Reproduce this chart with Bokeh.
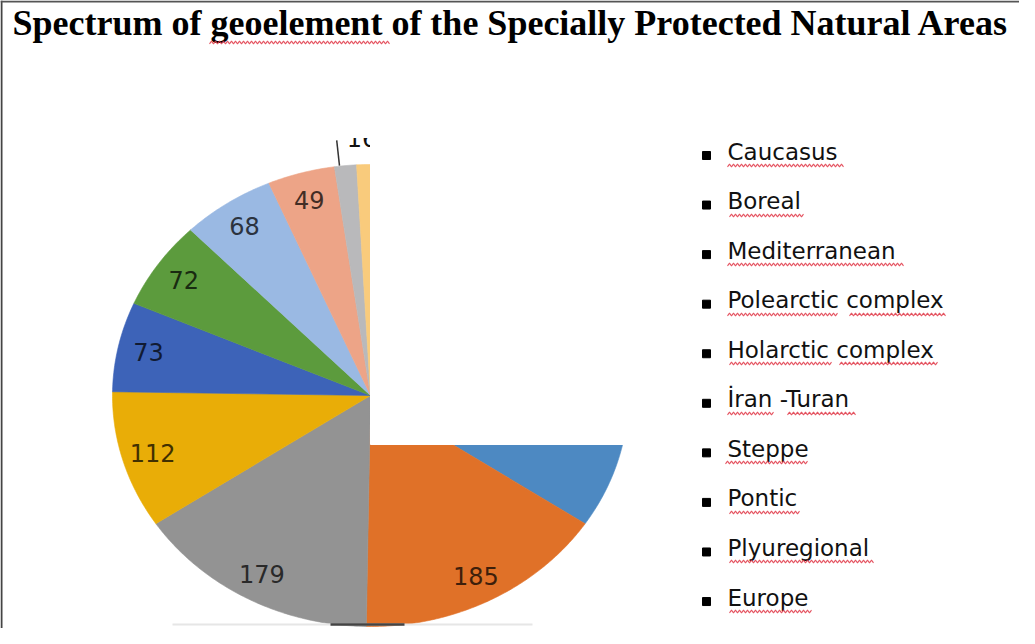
import numpy as np
from bokeh.plotting import figure
from bokeh.models import Range1d, Span
from bokeh.core.properties import value
from bokeh.embed import file_html
from bokeh.resources import INLINE

# ---------------- data ----------------
title_text = "Spectrum of geoelement of the Specially Protected Natural Areas"
categories = ["Caucasus", "Boreal", "Mediterranean", "Polearctic complex",
              "Holarctic complex", "İran -Turan", "Steppe", "Pontic",
              "Plyuregional", "Europe"]
values = [400, 185, 179, 112, 73, 72, 68, 49, 16, 10]
colors = ["#4d89c2", "#e07128", "#939393", "#e9ad07", "#3d63b8",
          "#5c9b3d", "#9ab9e3", "#eda487", "#b9b9bb", "#f9cb7c"]
inside_labels = [False, True, True, True, True, True, True, True, False, False]
outside_labels = [False, False, False, False, False, False, False, False, True, False]

# ---------------- layout (page pixels) ----------------
W, H = 1019, 628
X0, X1, Y0, Y1 = 8, 8 + W, 8, 8 + H
CX, CY, RX, RY = 378, 403, 258, 231
LABEL_R = 0.88
MASK_DROP = 49          # mask of upper-right quadrant extends below centre
TOP_CLIP = 145          # plot-area top
LEG_X, LEG_TEXT_X, LEG_Y0, LEG_DY = 714, 735, 160, 49.56

def darken(c, f=0.28):
    c = c.lstrip("#")
    r, g, b = (int(c[i:i + 2], 16) for i in (0, 2, 4))
    return "#%02x%02x%02x" % (int(r * f), int(g * f), int(b * f))

p = figure(width=W, height=H, x_range=Range1d(X0, X1), y_range=Range1d(Y1, Y0),
           output_backend="svg", toolbar_location=None, min_border=0,
           x_axis_type=None, y_axis_type=None)
p.grid.visible = False
p.outline_line_color = None
p.background_fill_color = "white"
p.border_fill_color = "white"

# ---------------- pie (elliptical) ----------------
vals = np.array(values, dtype=float)
total = vals.sum()
ends = np.cumsum(vals) / total * 2 * np.pi
starts = np.concatenate([[0.0], ends[:-1]])
xs, ys = [], []
for a0, a1 in zip(starts, ends):
    t = np.linspace(a0, a1, max(int((a1 - a0) / 0.01), 2))
    xs.append(list(np.concatenate([[CX], CX + RX * np.sin(t)])))
    ys.append(list(np.concatenate([[CY], CY - RY * np.cos(t)])))
p.patches(xs, ys, fill_color=colors, line_color=colors, line_width=0.6)

mids = (starts + ends) / 2

# outside label (with leader line) for small slice
for i, flag in enumerate(outside_labels):
    if not flag:
        continue
    m = mids[i]
    sx, sy = CX + RX * np.sin(m), CY - RY * np.cos(m)
    ex, ey = CX + RX * 1.11 * np.sin(m), CY - RY * 1.11 * np.cos(m)
    p.line([sx - 6, ex - 6], [sy, ey], line_color="#333333", line_width=1.5)
    p.text([ex + 4], [ey - 2], text=[str(values[i])], text_align="left",
           text_baseline="middle", text_font=value("DejaVu Sans"),
           text_font_size="24px", text_color="#111111")

# inside labels
lx = [CX + RX * LABEL_R * np.sin(m) for m, f in zip(mids, inside_labels) if f]
ly = [CY - RY * LABEL_R * np.cos(m) for m, f in zip(mids, inside_labels) if f]
lt = [str(v) for v, f in zip(values, inside_labels) if f]
lc = [darken(c) for c, f in zip(colors, inside_labels) if f]
p.text(lx, ly, text=lt, text_color=lc, text_align="center", text_baseline="middle",
       text_font=value("DejaVu Sans"), text_font_size="24px")

# masks (cropped screenshot areas)
p.quad(left=[CX], right=[X1], top=[Y0], bottom=[CY + MASK_DROP],
       fill_color="white", line_color="white")
p.quad(left=[X0], right=[CX], top=[Y0], bottom=[TOP_CLIP],
       fill_color="white", line_color="white")

# bottom line remnants
p.line([180, 540], [632, 632], line_color="#e6e6e6", line_width=2)
p.line([338, 412], [632, 632], line_color="#444444", line_width=2.5)

# ---------------- legend ----------------
rows = np.arange(len(categories))
row_y = LEG_Y0 + rows * LEG_DY
p.scatter(x=[LEG_X] * len(categories), y=list(row_y + 3), marker="square", size=8,
          fill_color="black", line_color="black")
p.text(x=[LEG_TEXT_X] * len(categories), y=list(row_y - 1), text=categories,
       text_align="left", text_baseline="middle", text_font=value("DejaVu Sans"),
       text_font_size="23px", text_color="#111111")

# ---------------- title ----------------
p.text([20], [30], text=[title_text], text_align="left", text_baseline="middle",
       text_font=value("Liberation Serif"), text_font_style="bold",
       text_font_size="36px", text_color="black")

# ---------------- spell-check squiggles ----------------
squig = [  # (x0, x1, y)
    (217, 398, 50),
    (735, 852, 173), (737, 812, 223), (735, 912, 272),
    (735, 847, 322), (857, 955, 322),
    (737, 840, 371), (847, 947, 371),
    (735, 783, 421), (795, 865, 421),
    (733, 817, 470), (737, 808, 520), (737, 882, 569), (737, 820, 619),
]
sxs, sys_ = [], []
for a, b, y in squig:
    xx = np.arange(a, b, 2.0)
    sxs.append(list(xx))
    sys_.append(list(y + 1.3 * (-1) ** np.arange(len(xx))))
p.multi_line(sxs, sys_, line_color="#e03848", line_width=1.1, line_alpha=0.85)

# ---------------- frame ----------------
p.add_layout(Span(location=9, dimension="height", line_color="#444444", line_width=2))
p.add_layout(Span(location=9, dimension="width", line_color="#555555", line_width=2))

open("out.html", "w").write(file_html(p, INLINE))
